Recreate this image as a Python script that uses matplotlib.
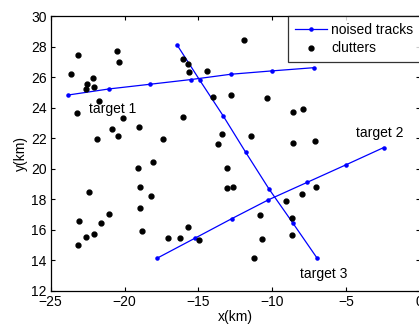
import numpy as np
import matplotlib.pyplot as plt

plt.rcParams['font.family'] = ['Liberation Sans', 'DejaVu Sans']

# noised tracks (km)
t1_x = [-23.8, -21.02, -18.30, -15.52, -12.8, -10.01, -7.18]
t1_y = [24.84, 25.24, 25.54, 25.85, 26.2, 26.42, 26.63]
t2_x = [-17.78, -15.26, -12.75, -10.26, -7.65, -5.0, -2.45]
t2_y = [14.14, 15.43, 16.72, 17.96, 19.1, 20.26, 21.39]
t3_x = [-16.44, -14.9, -13.32, -11.8, -10.22, -8.6, -6.96]
t3_y = [28.12, 25.8, 23.47, 21.09, 18.68, 16.44, 14.14]

# clutters
cl_x = [-23.6, -23.12, -23.19, -22.15, -22.51, -22.6, -22.08, -21.74, -21.85,
        -20.86, -20.45, -20.09, -20.5, -20.36, -19.02, -17.37, -16.01, -15.72,
        -15.6, -16.03, -14.43, -19.07, -18.09, -11.92, -14.02, -12.82, -10.35,
        -8.56, -7.91, -13.41, -11.46, -13.7, -8.56, -7.1, -13.04, -23.1,
        -22.42, -23.12, -22.62, -22.1, -21.58, -21.02, -18.95, -18.95, -18.23,
        -18.85, -17.05, -16.24, -15.72, -14.95, -13.04, -12.68, -9.08, -7.95,
        -7.02, -10.83, -8.67, -10.69, -8.67, -11.26]
cl_y = [26.2, 27.48, 23.66, 25.94, 25.54, 25.24, 25.35, 24.45, 21.98,
        22.62, 22.18, 23.34, 27.73, 26.99, 22.73, 21.98, 27.22, 26.9,
        26.33, 23.38, 26.4, 20.04, 20.43, 28.45, 24.71, 24.84, 24.65,
        23.75, 23.91, 22.31, 22.14, 21.61, 21.72, 21.83, 20.06, 16.57,
        18.47, 15.03, 15.54, 15.69, 16.43, 17.02, 18.79, 17.42, 18.24,
        15.93, 15.49, 15.49, 16.17, 15.34, 18.77, 18.79, 17.9, 18.36,
        18.79, 16.96, 16.8, 15.41, 15.67, 14.14]

fig = plt.figure(figsize=(4.19, 3.25), dpi=100)
ax = fig.add_axes([0.121, 0.1055, 0.881, 0.8443])

trk = dict(color='b', marker='.', markersize=4.5, linewidth=0.9)
ax.plot(t1_x, t1_y, label='noised tracks', **trk)
ax.plot(t2_x, t2_y, **trk)
ax.plot(t3_x, t3_y, **trk)
ax.plot(cl_x, cl_y, 'k.', markersize=7, linestyle='none', label='clutters')

ax.text(-22.4, 23.9, 'target 1', fontsize=10, va='center')
ax.text(-4.35, 22.33, 'target 2', fontsize=10, va='center')
ax.text(-8.1, 13.09, 'target 3', fontsize=10, va='center')

ax.set_xlim(-25, 0)
ax.set_ylim(12, 30)
ax.set_xticks(np.arange(-25, 1, 5))
ax.set_yticks(np.arange(12, 31, 2))
ax.tick_params(direction='in', length=3, width=0.8, top=True, right=True,
               labelsize=10, pad=3)
for s in ax.spines.values():
    s.set_linewidth(0.9)
ax.set_xlabel('x(km)', fontsize=10, labelpad=1)
ax.set_ylabel('y(km)', fontsize=10, labelpad=2)

leg = ax.legend(loc='upper right', bbox_to_anchor=(1.0, 1.0), borderaxespad=0,
                fancybox=False, edgecolor='k', fontsize=10, handlelength=2.3,
                handletextpad=0.35, labelspacing=0.35, borderpad=0.45)
leg.get_frame().set_linewidth(0.9)

fig.savefig('out.png', dpi=100)
